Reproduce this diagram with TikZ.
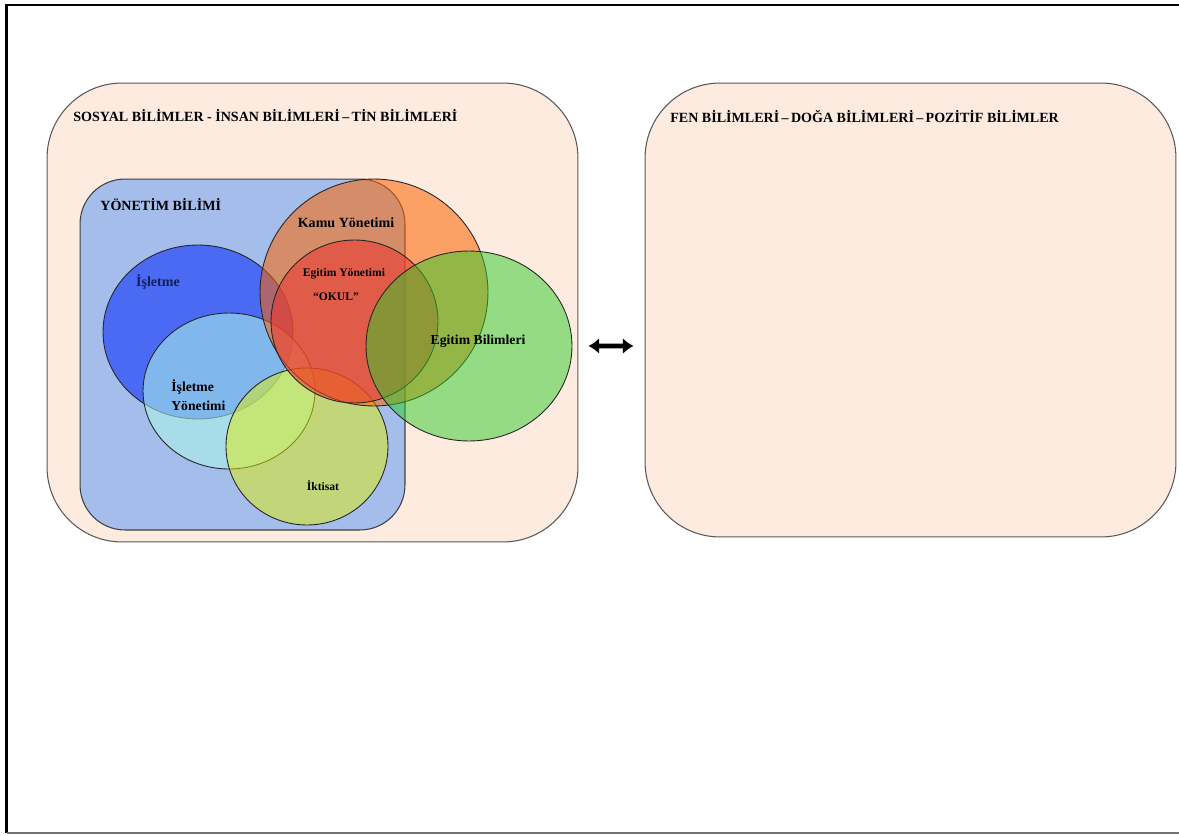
\documentclass[tikz,border=0pt]{standalone}
\usepackage{fontspec}
\setmainfont{Liberation Serif}
\usetikzlibrary{shapes, positioning, arrows.meta}

\definecolor{peach}{RGB}{253,235,224}
\definecolor{yonmavi}{RGB}{164,189,234}
\definecolor{isletmemavi}{RGB}{60,92,245}
\definecolor{turkuaz}{RGB}{172,247,233}
\definecolor{kamuturuncu}{RGB}{253,100,0}
\definecolor{egkirmizi}{RGB}{235,60,50}
\definecolor{egyesil}{RGB}{45,205,40}
\definecolor{iktsari}{RGB}{224,239,10}
\definecolor{lacivert}{RGB}{20,32,90}

\begin{document}
\begin{tikzpicture}[x=0.02cm, y=-0.02cm,
  alan/.style={shape=rectangle, rounded corners=1.5cm, minimum width=10.62cm, draw=black!65, line width=0.6pt, fill=peach},
  kume/.style={shape=ellipse, inner sep=0pt, draw=black!85, line width=0.5pt},
  baslik/.style={anchor=west, inner sep=0pt, font=\fontsize{8}{10}\selectfont\bfseries},
  etiket/.style={inner sep=0pt, font=\fontsize{7.6}{9.5}\selectfont\bfseries}]
\useasboundingbox (0,0) rectangle (1179,835);
% page frame
\draw[line width=1.2pt] (1179,5) -- (6.5,5) -- (6.5,833);
\draw[black!55, line width=0.7pt] (6.5,833) -- (1179,833);
%% the two fields
\node[alan, minimum height=9.18cm] (sosyal) at (312.5,312.5) {};
\node[alan, minimum height=9.08cm] (fen) at (910.5,310) {};
\node[baslik] (sosyalbaslik) at (73,116) {SOSYAL BİLİMLER - İNSAN BİLİMLERİ\,–\,TİN BİLİMLERİ};
\node[baslik] (fenbaslik) at (670,116) {FEN BİLİMLERİ\,–\,DOĞA BİLİMLERİ\,–\,POZİTİF BİLİMLER};
%split yonetim bilimi
\node[shape=rectangle, rounded corners=0.9cm, minimum width=6.5cm, minimum height=7.02cm, draw=black!75, line width=0.6pt, fill=yonmavi] (yonetim) at (242.5,354.5) {};
\node[baslik] (yonetimbaslik) at (100,205) {YÖNETİM BİLİMİ};
\node[kume, minimum width=3.8cm, minimum height=3.48cm, fill=isletmemavi, fill opacity=0.85] (isletme) at (198,332) {};
\node[kume, minimum width=3.44cm, minimum height=3.12cm, fill=turkuaz, fill opacity=0.55] (isyon) at (229,391) {};
\node[kume, minimum width=3.24cm, minimum height=3.14cm, fill=iktsari, fill opacity=0.5] (iktisat) at (307,446.5) {};
\node[kume, minimum width=4.56cm, minimum height=4.54cm, fill=kamuturuncu, fill opacity=0.55] (kamu) at (374,292.5) {};
\node[kume, minimum width=3.34cm, minimum height=3.26cm, fill=egkirmizi, fill opacity=0.6] (egyon) at (354.5,321.5) {};
\node[kume, minimum width=4.12cm, minimum height=3.8cm, fill=egyesil, fill opacity=0.5] (egbil) at (469,346) {};
%% labels
\node[etiket, text=lacivert, font=\fontsize{8}{10}\selectfont\bfseries] (isletmeyazi) at (158,282) {İşletme};
\node[etiket, align=left, anchor=north west, font=\fontsize{7.8}{11.2}\selectfont\bfseries] (isyonyazi) at (171,379) {İşletme\\Yönetimi};
\node[etiket, font=\fontsize{6.6}{8}\selectfont\bfseries] (iktisatyazi) at (323,486) {İktisat};
\node[etiket, font=\fontsize{8}{10}\selectfont\bfseries] (kamuyazi) at (346,223) {Kamu Yönetimi};
\node[etiket, font=\fontsize{6.6}{8}\selectfont\bfseries] (egyonyazi) at (344,274) {Egitim Yönetimi};
\node[etiket, font=\fontsize{6.6}{8}\selectfont\bfseries] (okulyazi) at (336,297) {“OKUL”};
\node[etiket, font=\fontsize{7.8}{9.5}\selectfont\bfseries] (egbilyazi) at (478,341) {Egitim Bilimleri};
\draw[line width=2.6pt, {Latex[length=6pt,width=9pt]}-{Latex[length=6pt,width=9pt]}, shorten <=0.2cm, shorten >=0.22cm] ([yshift=-0.67cm]sosyal.east) -- ([yshift=-0.72cm]fen.west);
\end{tikzpicture}
\end{document}
